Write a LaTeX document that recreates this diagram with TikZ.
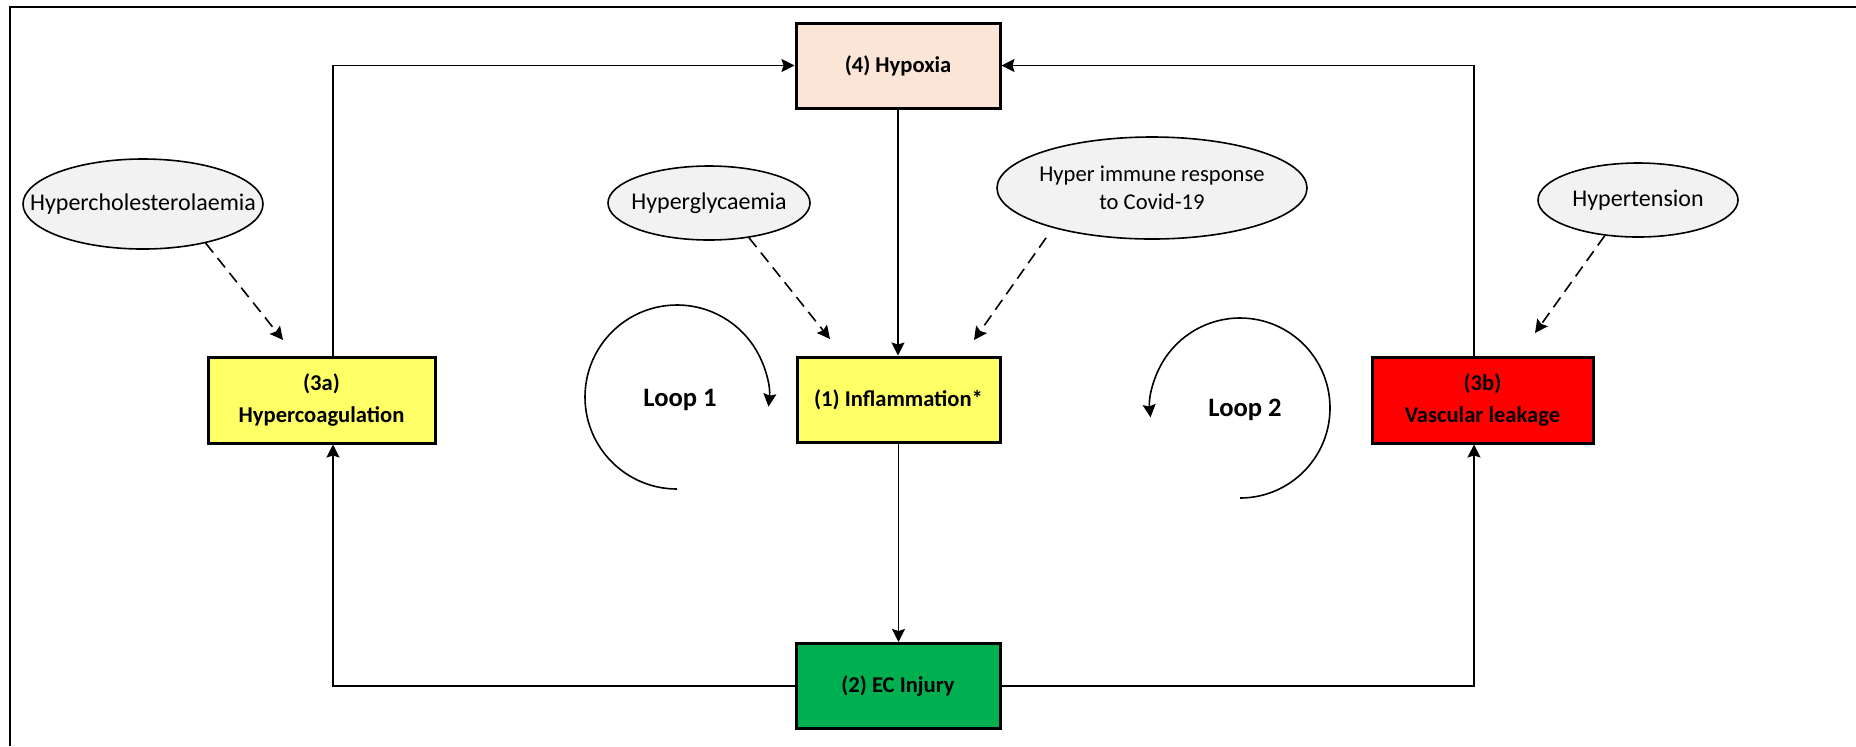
\documentclass[tikz,border=0pt]{standalone}
\usepackage{fontspec}
\setmainfont{Carlito}
\usetikzlibrary{arrows.meta,shapes.geometric}
\definecolor{peach}{HTML}{FBE5D6}
\definecolor{lemon}{HTML}{FFFF66}
\definecolor{alarm}{HTML}{FF0000}
\definecolor{injury}{HTML}{00B050}
\definecolor{cloud}{HTML}{F2F2F2}
% zero-width line so an ellipse keeps its own size around wide text
\newcommand\zw[1]{\makebox[0pt]{#1}}
\begin{document}
\begin{tikzpicture}[x=0.5pt,y=-0.5pt,
  box/.style={draw, line width=1.5pt, minimum height=42.5pt, inner sep=0pt,
    align=center, font=\bfseries\fontsize{11.3}{16}\selectfont},
  factor/.style={ellipse, draw, line width=0.8pt, fill=cloud, inner sep=0pt,
    align=center, font=\fontsize{12}{14}\selectfont},
  link/.style={line width=0.8pt, -{Stealth[length=6.5pt,width=6.5pt,inset=1pt]}},
  hint/.style={line width=0.8pt, dash pattern=on 6pt off 3.5pt,
    -{Stealth[length=6.5pt,width=6.5pt,inset=1pt]}},
  cycle/.style={line width=0.8pt, -{Stealth[length=6.5pt,width=6.5pt,inset=1pt]}},
  looplabel/.style={font=\bfseries\fontsize{13.3}{16}\selectfont}]
\useasboundingbox (0,0) rectangle (1856,746);

% outer frame
\draw[line width=1.2pt] (10,746) -- (10,7) -- (1856,7);

% main boxes
\node[box, fill=peach,  minimum width=102pt]   (hyp)  at (898,65.5)   {(4) Hypoxia};
\node[box, fill=lemon,  minimum width=101.5pt] (inf)  at (898.5,399.5){(1) Inflammation*};
\node[box, fill=injury, minimum width=102pt]   (ec)   at (898,686)    {(2) EC Injury};
\node[box, fill=lemon,  minimum width=113.5pt, minimum height=43pt] (coag) at (321.5,400) {(3a)\\Hypercoagulation};
\node[box, fill=alarm,  minimum width=110.5pt, minimum height=43pt] (leak) at (1482.5,400) {(3b)\\Vascular leakage};

% risk factors
\node[factor, minimum width=120pt, minimum height=45pt] (chol) at (143,204) {\zw{Hypercholesterolaemia}};
\node[factor, minimum width=101pt, minimum height=37pt] (gly)  at (709,203) {\zw{Hyperglycaemia}};
\node[factor, minimum width=155pt, minimum height=51pt, font=\fontsize{11.3}{14}\selectfont]
  (imm) at (1152,188) {\zw{Hyper immune response}\\\zw{to Covid-19}};
\node[factor, minimum width=100pt, minimum height=37pt] (tens) at (1638,200) {\zw{Hypertension}};

% ends of the dashed influence arrows
\coordinate (cholend) at (283,340);
\coordinate (glyend)  at (830,339);
\coordinate (immend)  at (974,340);
\coordinate (tensend) at (1535,333);

\draw[hint] (chol.-32)  -- (cholend);
\draw[hint] (gly.-41)   -- (glyend);
\draw[hint, shorten <=6pt] (imm.-158) -- (immend);
\draw[hint] (tens.-133) -- (tensend);

% causal chain
\draw[link] ([xshift=5.75pt]coag.north) |- (hyp.west);
\draw[link] ([xshift=-4.25pt]leak.north) |- (hyp.east);
\draw[link] (hyp.south) -- (hyp.south |- inf.north);
\draw[link] (inf.south) -- (inf.south |- ec.north);
\draw[link] (ec.west) -| ([xshift=5.75pt]coag.south);
\draw[link] (ec.east) -| ([xshift=-4.25pt]leak.south);

% feedback loops
\draw[cycle] (677,397) ++(90:92) arc[start angle=90, end angle=366, radius=92];
\draw[cycle] (1240,408) ++(90:90) arc[start angle=90, end angle=-186, radius=90];
\node[looplabel] (loopa) at (680,400) {Loop 1};
\node[looplabel] (loopb) at (1245,410) {Loop 2};
\end{tikzpicture}
\end{document}
